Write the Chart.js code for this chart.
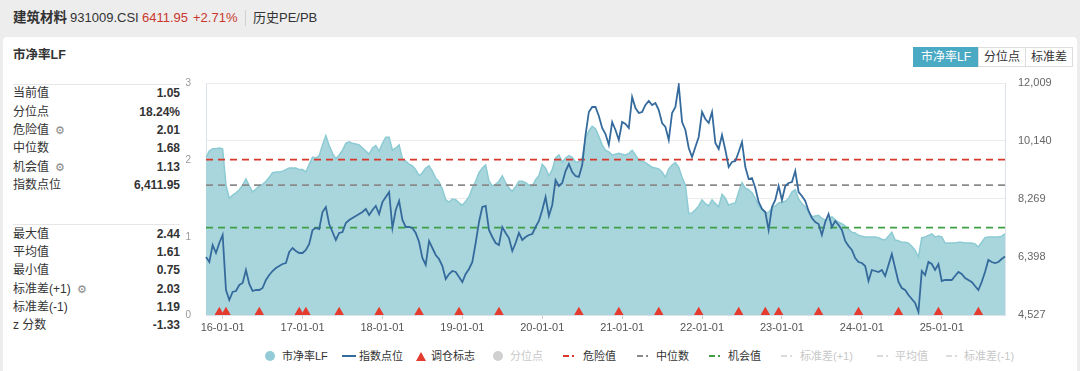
<!DOCTYPE html>
<html>
<head>
<meta charset="utf-8">
<script src="https://cdn.jsdelivr.net/npm/chart.js@4.4.1/dist/chart.umd.min.js"></script>
<style>
body{margin:0;width:1080px;height:371px;background:#ededed;font-family:"Liberation Sans",Arial,"Noto Sans CJK SC",sans-serif;overflow:hidden;position:relative;color:#333}
.h{position:absolute;top:8px;height:20px;line-height:20px;font-size:13px;white-space:nowrap}
#panel{position:absolute;left:3px;top:37px;width:1074px;height:340px;background:#fff;border-radius:4px}
#title{position:absolute;left:13px;top:47px;font-size:12.5px;font-weight:bold;line-height:16px}
.row{position:absolute;left:13px;width:167px;height:16px;line-height:16px;font-size:12px;display:flex;justify-content:space-between;white-space:nowrap}
.row b{font-weight:bold}
.gear{font-size:11px;color:#888;margin-left:6px}
.sep{position:absolute;left:13px;width:167px;height:1px;background:#e6e6e6}
#btns{position:absolute;left:914px;top:47px;height:20px;display:flex;font-size:12px;line-height:18px}
#btns div{border:1px solid #ddd;padding:0 5px;color:#333;margin-left:-1px}
#btns .on{background:#4aaac4;border-color:#4aaac4;color:#fff;padding:0 7px}
.lg{position:absolute;top:349px;height:14px;line-height:14px;font-size:11px;display:flex;align-items:center;white-space:nowrap}
.lg.dim{color:#c8c8c8}
.dot{display:inline-block;width:10px;height:10px;border-radius:5px}
.ln{display:inline-block;width:14px;height:2px}
.tri{display:inline-block;width:0;height:0;border-left:5px solid transparent;border-right:5px solid transparent;border-bottom:9px solid #e53a2e}
.dd{display:inline-block;width:14px;height:2px}
#c{position:absolute;left:170px;top:70px}
</style>
</head>
<body>
<div class="h" style="left:13px;font-size:13.5px;font-weight:bold">建筑材料</div>
<div class="h" style="left:70px">931009.CSI</div>
<div class="h" style="left:142px;color:#c9372c">6411.95</div>
<div class="h" style="left:193px;color:#c9372c">+2.71%</div>
<div style="position:absolute;left:245px;top:10px;width:1px;height:16px;background:#d0d0d0"></div>
<div class="h" style="left:253px">历史PE/PB</div>
<div id="panel"></div>
<div id="title">市净率LF</div>
<div id="stats"></div>
<div class="sep" style="top:84px"></div>
<div class="sep" style="top:224px"></div>
<div id="btns"><div class="on">市净率LF</div><div>分位点</div><div>标准差</div></div>
<canvas id="c" width="890" height="275"></canvas>

<div class="lg" style="left:265px"><i class="dot" style="background:#93ccd6;margin-right:7px"></i>市净率LF</div>
<div class="lg" style="left:342px"><i class="ln" style="background:#356b9c;margin-right:3px"></i>指数点位</div>
<div class="lg" style="left:416px"><i class="tri" style="margin-right:5px"></i>调仓标志</div>
<div class="lg dim" style="left:493px"><i class="dot" style="background:#d0d0d0;margin-right:7px"></i>分位点</div>
<div class="lg" style="left:563px"><i class="dd" style="background:linear-gradient(90deg,#d8382c 0 6px,transparent 6px 9px,#d8382c 9px 11px,transparent 11px);margin-right:6px"></i>危险值</div>
<div class="lg" style="left:637px"><i class="dd" style="background:linear-gradient(90deg,#8a8a8a 0 6px,transparent 6px 9px,#8a8a8a 9px 11px,transparent 11px);margin-right:5px"></i>中位数</div>
<div class="lg" style="left:709px"><i class="dd" style="background:linear-gradient(90deg,#3f9f45 0 6px,transparent 6px 9px,#3f9f45 9px 11px,transparent 11px);margin-right:5px"></i>机会值</div>
<div class="lg dim" style="left:781px"><i class="dd" style="background:linear-gradient(90deg,#dcdcdc 0 6px,transparent 6px 9px,#dcdcdc 9px 11px,transparent 11px);margin-right:5px"></i>标准差(+1)</div>
<div class="lg dim" style="left:877px"><i class="dd" style="background:linear-gradient(90deg,#dcdcdc 0 6px,transparent 6px 9px,#dcdcdc 9px 11px,transparent 11px);margin-right:4px"></i>平均值</div>
<div class="lg dim" style="left:946px"><i class="dd" style="background:linear-gradient(90deg,#dcdcdc 0 6px,transparent 6px 9px,#dcdcdc 9px 11px,transparent 11px);margin-right:4px"></i>标准差(-1)</div>

<script>
// 左侧统计
var statLabels = ['当前值','分位点','危险值','中位数','机会值','指数点位','最大值','平均值','最小值','标准差(+1)','标准差(-1)','z 分数'];
var statValues = ['1.05','18.24%','2.01','1.68','1.13','6,411.95','2.44','1.61','0.75','2.03','1.19','-1.33'];
var statGear = ['危险值','机会值','标准差(+1)'];
var statTop = [85,104,122,140,159,177,226,244,262,281,299,317];

// 半月一个点 15-10-15 ~ 25-10-15
var labels = [];
function pad(n){return n<10 ? '0'+n : ''+n;}
for (var yy = 2015; yy <= 2025; yy++) {
  for (var mm = 1; mm <= 12; mm++) {
    [1,15].forEach(function(dd){
      var s = String(yy).slice(2)+'-'+pad(mm)+'-'+pad(dd);
      if (s >= '15-10-15' && s <= '25-10-15') labels.push(s);
    });
  }
}

var pbValues = [
  2.04,2.12,2.15,2.15,2.16,2.15,1.68,1.51,1.55,1.58,
  1.62,1.68,1.76,1.67,1.59,1.63,1.67,1.69,1.73,1.78,
  1.84,1.85,1.85,1.86,1.88,1.90,1.90,1.90,1.88,1.88,
  1.85,1.95,2.04,2.03,2.06,2.20,2.32,2.19,2.09,2.02,
  2.07,2.13,2.22,2.24,2.22,2.21,2.20,2.16,2.12,2.08,
  2.16,2.19,2.12,2.22,2.30,2.30,2.13,2.16,2.20,2.02,
  1.99,1.95,1.93,1.88,1.80,1.84,1.90,1.93,1.86,1.77,
  1.72,1.63,1.49,1.46,1.50,1.49,1.45,1.42,1.47,1.53,
  1.64,1.73,1.84,1.90,1.94,1.73,1.67,1.69,1.73,1.80,
  1.71,1.64,1.60,1.66,1.73,1.73,1.71,1.68,1.67,1.75,
  1.80,1.95,1.90,1.80,1.88,2.03,2.07,1.98,2.03,2.06,
  2.04,1.98,1.98,2.03,2.29,2.38,2.44,2.41,2.31,2.20,
  2.13,2.11,2.07,2.08,2.09,2.08,2.07,2.09,2.13,2.07,
  2.00,1.99,1.97,1.94,1.91,1.90,1.89,1.85,1.78,1.89,
  1.94,1.97,1.91,1.78,1.68,1.31,1.32,1.36,1.41,1.49,
  1.44,1.41,1.49,1.44,1.40,1.56,1.51,1.42,1.44,1.45,
  1.59,1.71,1.64,1.62,1.58,1.51,1.41,1.36,1.32,1.33,
  1.38,1.41,1.45,1.46,1.47,1.51,1.59,1.62,1.50,1.44,
  1.40,1.33,1.27,1.28,1.29,1.25,1.23,1.24,1.27,1.23,
  1.20,1.18,1.15,1.11,1.07,1.06,1.03,1.02,1.01,1.01,
  1.01,1.01,1.00,0.98,0.97,1.02,1.07,0.97,0.96,0.94,
  0.94,0.93,0.89,0.84,0.75,1.00,1.01,1.03,1.05,1.01,
  1.02,1.01,0.93,0.93,0.93,0.93,0.94,0.94,0.93,0.93,
  0.93,0.92,0.88,0.94,1.00,1.01,1.01,1.01,1.01,1.02,
  1.05
];

var indexValues = [
  6398,6236,6785,6527,6849,7107,5333,5011,5269,5301,
  5495,5559,5978,5527,5301,5333,5333,5398,5656,5817,
  5946,6043,6107,6172,6204,6559,6688,6591,6527,6527,
  6623,6817,7268,7333,7301,7849,8010,7462,7204,6946,
  7172,7204,7494,7591,7655,7720,7784,7849,7946,7752,
  7913,8042,7784,8171,8333,8494,7333,7913,8204,7591,
  7365,7365,7333,7172,6881,6365,6140,6914,6688,6462,
  6333,6107,5688,5849,5946,5914,5753,5591,5849,6011,
  6236,6849,7526,8010,8042,7268,7043,6849,6785,7365,
  7172,7010,6591,6849,7172,6946,7043,7107,7139,7365,
  7559,7913,8333,7720,8075,8881,8687,8784,9171,9397,
  9139,9010,8978,9365,10332,11074,11235,11235,10945,10558,
  10364,10010,10751,10493,10171,10751,10687,10558,11558,11203,
  11042,11074,11300,11429,11300,11364,11138,10719,10590,10171,
  11042,11235,11944,10751,10493,9913,9623,9945,10268,11074,
  10848,10719,11074,10074,9881,10332,9848,9300,9461,9494,
  9784,10106,9300,8913,8945,8623,8171,7946,7849,7268,
  8010,8236,8687,8236,8687,8784,8816,9171,8494,8365,
  8204,7881,7655,7526,7462,7107,7526,7784,7365,7559,
  7430,7268,6914,6752,6623,6365,6236,6204,6107,5624,
  5978,5946,5914,5978,5785,6140,6494,6043,5591,5398,
  5333,5172,5043,4914,4624,5946,5817,6236,6172,5978,
  6172,5624,5656,5656,5656,5785,5914,5849,5720,5656,
  5591,5462,5333,5591,5914,6301,6236,6204,6236,6333,
  6412
];

var rebalanceDates = ['15-12-15','16-01-15','16-06-15','16-12-15','17-01-15','17-06-15','17-12-15','18-06-15','18-12-15','19-06-15','20-06-15','20-12-15','21-06-15','21-12-15','22-06-15','22-10-15','22-12-15','23-06-15','23-12-15','24-06-15','24-12-15','25-06-15'];
var dangerValue = 2.01, medianValue = 1.68, chanceValue = 1.13;
var markerLevel = 0.035;
var leftTicks = [0,1,2,3];
var rightTicks = [4527,6398,8269,10140,12009];

var html = '';
for (var i = 0; i < statLabels.length; i++) {
  var g = statGear.indexOf(statLabels[i]) >= 0 ? '<span class="gear">⚙</span>' : '';
  html += '<div class="row" style="top:'+statTop[i]+'px"><span>'+statLabels[i]+g+'</span><b>'+statValues[i]+'</b></div>';
}
document.getElementById('stats').innerHTML = html;

function flat(v){ return labels.map(function(){ return v; }); }

Chart.defaults.font.family = '"Liberation Sans", Arial, sans-serif';
new Chart(document.getElementById('c'), {
  type: 'line',
  data: {
    labels: labels,
    datasets: [
      {label:'调仓标志', data: labels.map(function(l){ return rebalanceDates.indexOf(l) >= 0 ? markerLevel : null; }),
        yAxisID:'y', showLine:false, pointStyle:'triangle', pointRadius:5.5, pointBackgroundColor:'#e53a2e', pointBorderWidth:0, order:1, clip:false},
      {label:'指数点位', data: indexValues, yAxisID:'y1', borderColor:'#356b9c', borderWidth:1.8, pointRadius:0, order:2},
      {label:'危险值', data: flat(dangerValue), yAxisID:'y', borderColor:'#d8382c', borderDash:[7,5], borderWidth:1.8, pointRadius:0, order:3},
      {label:'中位数', data: flat(medianValue), yAxisID:'y', borderColor:'#8a8a8a', borderDash:[7,5], borderWidth:1.8, pointRadius:0, order:3},
      {label:'机会值', data: flat(chanceValue), yAxisID:'y', borderColor:'#3f9f45', borderDash:[7,5], borderWidth:1.8, pointRadius:0, order:3},
      {label:'市净率LF', data: pbValues, yAxisID:'y', borderColor:'#8ccbd4', backgroundColor:'#a9d5dc', fill:'origin', borderWidth:1.5, pointRadius:0, order:5}
    ]
  },
  options: {
    responsive:false, animation:false,
    layout:{padding:{top:13,left:0,right:0,bottom:0}},
    plugins:{legend:{display:false}, tooltip:{enabled:false}},
    scales:{
      x:{
        ticks:{autoSkip:false, maxRotation:0, color:'#555', font:{size:11}, padding:2,
          callback:function(v,i){ var l = labels[i]; return l.slice(3) === '01-01' ? l : null; }},
        grid:{drawOnChartArea:false, tickLength:4, color:'#ccc'},
        border:{color:'#dde3ea'},
        afterFit:function(s){ s.height = 30; }
      },
      y:{
        position:'left', min:0, max:3,
        afterBuildTicks:function(s){ s.ticks = leftTicks.map(function(v){ return {value:v}; }); },
        ticks:{color:'#999', font:{size:10}, padding:7},
        grid:{display:false},
        border:{display:true, color:'#dde3ea'},
        afterFit:function(s){ s.width = 36; s.paddingTop = 6; s.paddingBottom = 6; }
      },
      y1:{
        position:'right', min:4527, max:12009,
        afterBuildTicks:function(s){ s.ticks = rightTicks.map(function(v){ return {value:v}; }); },
        ticks:{color:'#666', font:{size:11}, padding:13, callback:function(v){ return v.toLocaleString('en-US'); }},
        grid:{color:'#ececec', drawTicks:false},
        border:{display:true, color:'#dde3ea'},
        afterFit:function(s){ s.width = 55; s.paddingTop = 6; s.paddingBottom = 6; }
      }
    }
  }
});
</script>
</body>
</html>
